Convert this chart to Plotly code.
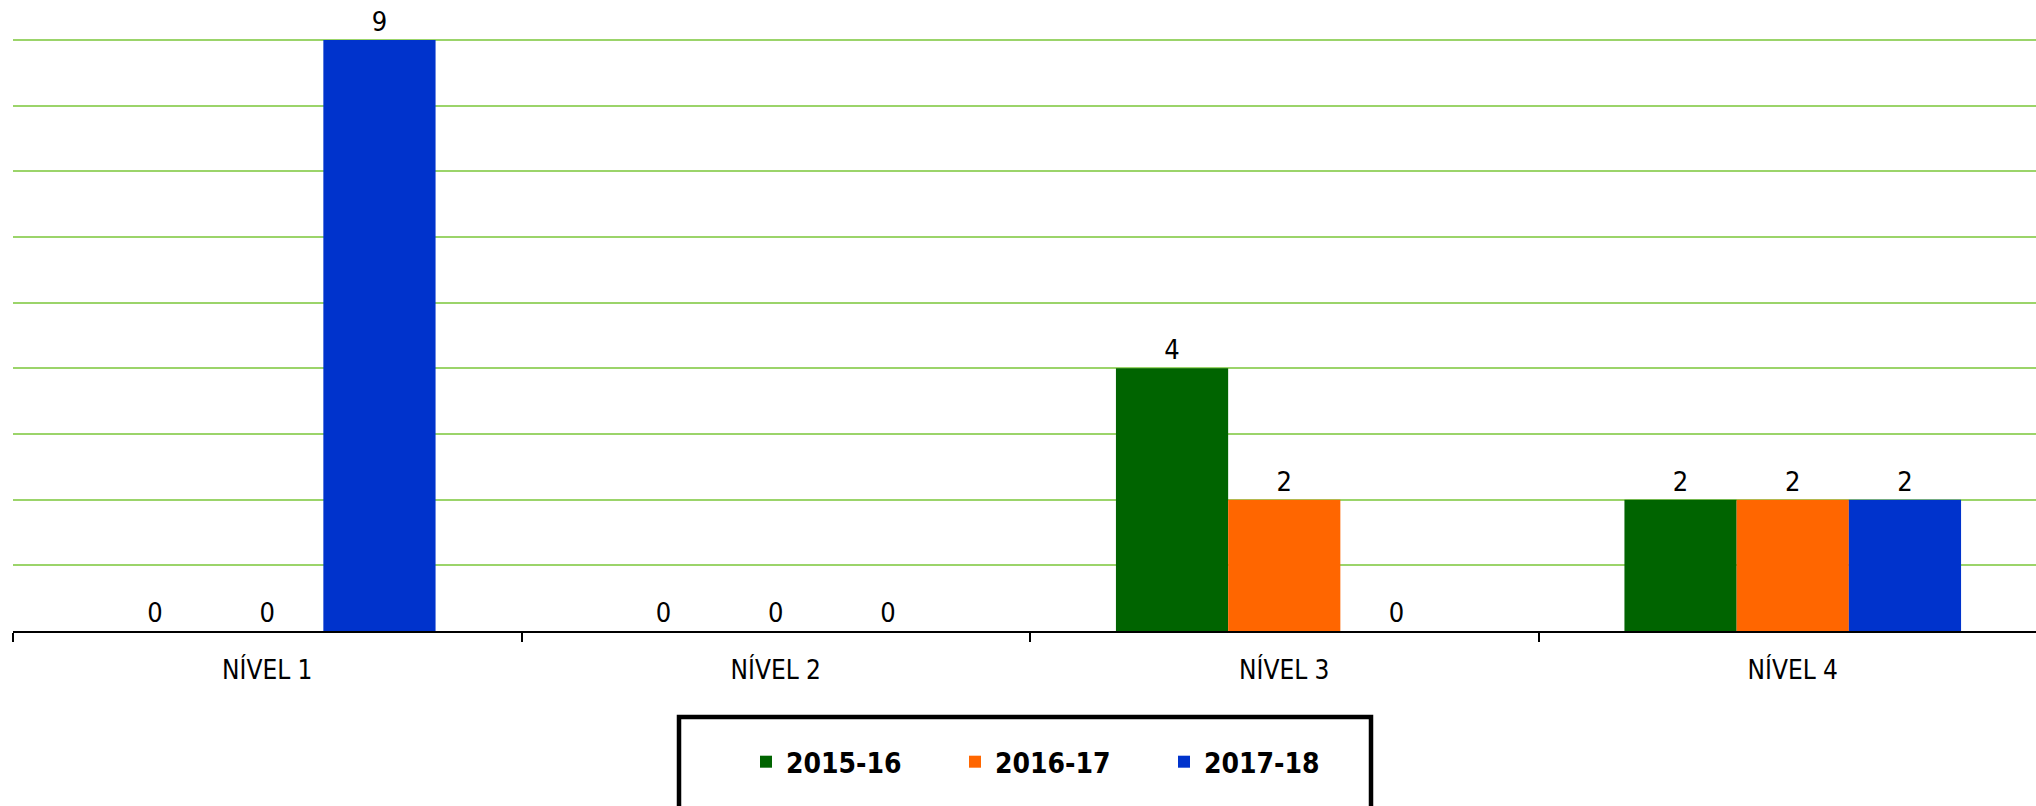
import plotly.graph_objects as go

categories = ["NÍVEL 1", "NÍVEL 2", "NÍVEL 3", "NÍVEL 4"]
series_names = ["2015-16", "2016-17", "2017-18"]
values_2015_16 = [0, 0, 4, 2]
values_2016_17 = [0, 0, 2, 2]
values_2017_18 = [9, 0, 0, 2]
colors = ["#006400", "#FF6600", "#0033CC"]

FONT = "DejaVu Sans Condensed, Liberation Sans Narrow, sans-serif"

# plot area runs slightly past the right edge of the window, as in the reference
W, H = 2047, 806
ML, MR, MT, MB = 13, 0, 38, 175
PW = W - ML - MR
PH = H - MT - MB

fig = go.Figure()
for name, vals, col in zip(series_names, [values_2015_16, values_2016_17, values_2017_18], colors):
    fig.add_trace(go.Bar(
        x=categories, y=vals, name=name,
        marker=dict(color=col, line=dict(width=0)),
        text=[str(v) for v in vals], textposition="outside",
        textfont=dict(family=FONT, size=27, color="#000000"),
        cliponaxis=False,
    ))

def px_x(px):
    return (px - ML) / PW

def px_y(py):
    return (H - MB - py) / PH

fig.add_shape(type="rect", xref="paper", yref="paper",
              x0=px_x(679), x1=px_x(1371), y0=px_y(717), y1=px_y(830),
              line=dict(color="#000000", width=4.5), fillcolor="rgba(0,0,0,0)")

fig.update_layout(
    width=W, height=H,
    margin=dict(l=ML, r=MR, t=MT, b=MB, pad=0, autoexpand=False),
    paper_bgcolor="white", plot_bgcolor="white",
    barmode="group", bargap=0.338, bargroupgap=0,
    font=dict(family=FONT, color="#000000"),
    showlegend=True,
    legend=dict(orientation="h", x=px_x(746), y=px_y(737), xanchor="left", yanchor="top",
                font=dict(family=FONT, size=28, color="#000000", weight="bold"),
                entrywidth=164, entrywidthmode="pixels",
                bgcolor="rgba(0,0,0,0)", borderwidth=0),
    xaxis=dict(showline=True, linecolor="#000000", linewidth=2,
               ticks="outside", tickson="boundaries", ticklen=9, tickcolor="#000000", tickwidth=1.5,
               ticklabelstandoff=15,
               tickfont=dict(family=FONT, size=26, color="#000000"), showgrid=False),
    yaxis=dict(range=[0, 9.03], dtick=1, showticklabels=False, showgrid=True,
               gridcolor="#9BD46A", gridwidth=1.5, zeroline=False, showline=False, ticks=""),
)

fig.write_html("out.html", config={"displayModeBar": False},
               post_script="document.body.style.margin='0px';document.body.style.overflow='hidden';")
